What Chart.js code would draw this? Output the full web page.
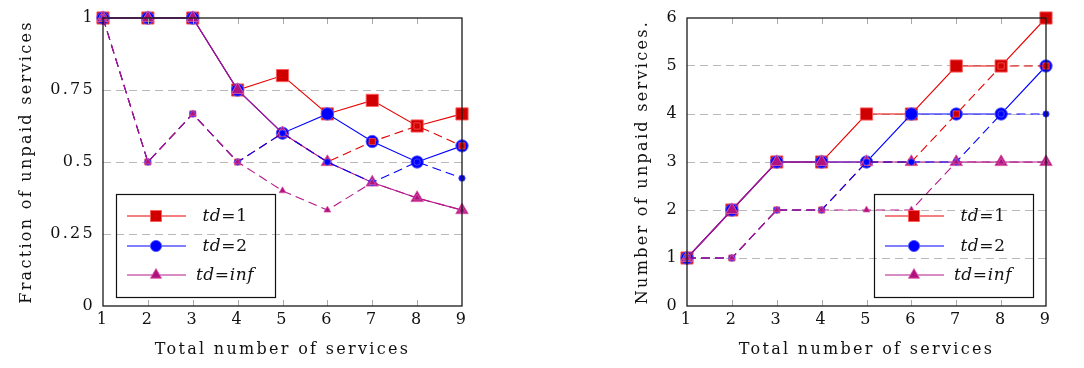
<!DOCTYPE html>
<html><head><meta charset="utf-8">
<script src="https://cdn.jsdelivr.net/npm/chart.js@4/dist/chart.umd.min.js"></script>
<style>
html,body{margin:0;padding:0;background:#fff;width:1084px;height:368px;overflow:hidden}
.wrap{position:absolute;top:0;width:542px;height:368px}
</style></head><body>
<div class="wrap" style="left:0"><canvas id="c1"></canvas></div>
<div class="wrap" style="left:542px"><canvas id="c2"></canvas></div>
<script>
// ---------- data ----------
const services = [1,2,3,4,5,6,7,8,9];
const seriesLabels = ['td=1','td=2','td=inf'];

// Left: fraction of unpaid services
const fracTicks = [0,0.25,0.5,0.75,1];
const fracTickLabels = ['0','0.25','0.5','0.75','1'];
const fracTd1 = [1,1,1,0.75,0.8,0.667,0.714,0.625,0.667];
const fracTd2 = [1,1,1,0.75,0.6,0.667,0.571,0.5,0.556];
const fracInf = [1,1,1,0.75,0.6,0.5,0.429,0.375,0.333];
const fracTd1Dash = [1,0.5,0.667,0.5,0.6,0.5,0.571,0.625,0.556];
const fracTd2Dash = [1,0.5,0.667,0.5,0.6,0.5,0.429,0.5,0.444];
const fracInfDash = [1,0.5,0.667,0.5,0.4,0.333,0.429,0.375,0.333];

// Right: number of unpaid services
const numTicks = [0,1,2,3,4,5,6];
const numTickLabels = ['0','1','2','3','4','5','6'];
const numTd1 = [1,2,3,3,4,4,5,5,6];
const numTd2 = [1,2,3,3,3,4,4,4,5];
const numInf = [1,2,3,3,3,3,3,3,3];
const numTd1Dash = [1,1,2,2,3,3,4,5,5];
const numTd2Dash = [1,1,2,2,3,3,3,4,4];
const numInfDash = [1,1,2,2,2,2,3,3,3];

// ---------- styles ----------
const FONT = "'DejaVu Serif', serif";
const STY = [
  {line:'#e80000', fill:'#d00000', edge:'rgba(255,90,90,0.9)', shape:'rect', big:8.6, small:4.4, leg:7.8},
  {line:'#0000ff', fill:'#0000ff', edge:'rgba(90,90,255,0.9)', shape:'circle', big:6.2, small:3.2, leg:5.6},
  {line:'#b3188a', fill:'#b0137f', edge:'rgba(220,90,170,0.9)', shape:'triangle', big:7.2, small:4.0, leg:6.4}
];

function pts(ys){ return services.map((x,i)=>({x:x, y:ys[i]})); }
function makeSets(solid, dashed){
  const sets = [];
  solid.forEach((ys,k)=>{
    const s = STY[k];
    sets.push({label:seriesLabels[k], data:pts(ys), borderColor:s.line, borderWidth:1.1,
      pointStyle:s.shape, pointRadius:s.big, pointBackgroundColor:s.fill, pointBorderColor:s.edge,
      pointBorderWidth:1, clip:false, order:6-k, tension:0, legendStyle:k});
  });
  dashed.forEach((ys,k)=>{
    const s = STY[k];
    sets.push({label:seriesLabels[k]+' (dashed)', data:pts(ys), borderColor:s.line, borderWidth:1.1,
      borderDash:[9,5], pointStyle:s.shape, pointRadius:s.small, pointBackgroundColor:s.fill,
      pointBorderColor:s.edge, pointBorderWidth:0.8, clip:false, order:3-k, tension:0});
  });
  return sets;
}

// ---------- plugins ----------
const SP = '2.3px';
const spacingPlugin = {
  id:'spacing',
  beforeLayout(chart){ chart.ctx.letterSpacing = SP; },
  beforeDraw(chart){ chart.ctx.letterSpacing = SP; }
};
const framePlugin = {
  id:'frame',
  afterDraw(chart){
    const ctx = chart.ctx, a = chart.chartArea, xs = chart.scales.x;
    ctx.save();
    ctx.strokeStyle = '#a8a8a8'; ctx.lineWidth = 1;
    xs.ticks.forEach(t=>{
      if (t.value === xs.min || t.value === xs.max) return;
      const px = Math.round(xs.getPixelForValue(t.value)) + 0.5;
      ctx.beginPath(); ctx.moveTo(px, a.bottom); ctx.lineTo(px, a.bottom-6); ctx.stroke();
      ctx.beginPath(); ctx.moveTo(px, a.top); ctx.lineTo(px, a.top+6); ctx.stroke();
    });
    ctx.strokeStyle = '#1a1a1a'; ctx.lineWidth = 1.3;
    ctx.strokeRect(a.left, a.top, a.right-a.left, a.bottom-a.top);
    ctx.restore();
  }
};
const boxLegend = {
  id:'boxLegend',
  afterDraw(chart, args, o){
    const ctx = chart.ctx, a = chart.chartArea;
    const x0 = a.left + o.dx, y0 = a.top + o.dy;
    ctx.save();
    ctx.letterSpacing = '0.6px';
    const solid = chart.data.datasets.filter(d=>d.legendStyle !== undefined);
    solid.forEach((d,i)=>{
      const s = STY[d.legendStyle];
      const y = y0 + o.rows[i];
      ctx.strokeStyle = s.line; ctx.lineWidth = 1.1; ctx.setLineDash([]);
      ctx.beginPath(); ctx.moveTo(x0+o.l1, y); ctx.lineTo(x0+o.l2, y); ctx.stroke();
      ctx.fillStyle = s.fill; ctx.strokeStyle = s.edge; ctx.lineWidth = 1;
      Chart.helpers.drawPoint(ctx, {pointStyle:s.shape, radius:s.leg, borderWidth:1, rotation:0}, x0+o.mk, y);
      const parts = d.label.split('=');
      const segs = [[parts[0],'italic'],['=','normal'],[parts[1], /^[0-9]+$/.test(parts[1])?'normal':'italic']];
      const widths = segs.map(([t,st])=>{ ctx.font = st+' 17px '+FONT; return ctx.measureText(t).width; });
      const gap = 0;
      const total = widths.reduce((p,c)=>p+c,0) + gap*2;
      let tx = x0 + o.tc - total/2;
      ctx.fillStyle = '#111'; ctx.textBaseline = 'middle'; ctx.textAlign = 'left';
      segs.forEach(([t,st],j)=>{ ctx.font = st+' 17px '+FONT; ctx.fillText(t, tx, y+1); tx += widths[j] + gap; });
    });
    ctx.strokeStyle = '#111'; ctx.lineWidth = 1.2; ctx.setLineDash([]);
    ctx.strokeRect(x0+0.5, y0+0.5, o.w, o.h);
    ctx.restore();
  }
};

function makeChart(id, cfg){
  return new Chart(document.getElementById(id), {
    type:'line',
    data:{datasets: makeSets(cfg.solid, cfg.dashed)},
    plugins:[spacingPlugin, framePlugin, boxLegend],
    options:{
      responsive:true, maintainAspectRatio:false, animation:false,
      layout:{padding:{left:cfg.padL, right:cfg.padR, top:18, bottom:0}},
      plugins:{legend:{display:false}, tooltip:{enabled:false},
        boxLegend:{dx:cfg.legDx, dy:176, w:159, h:103, rows:[22,52,81], l1:11, l2:70, mk:40, tc:109}},
      scales:{
        x:{type:'linear', min:1, max:9,
          ticks:{stepSize:1, color:'#111', font:{family:FONT, size:16}, padding:4},
          grid:{display:false, drawTicks:false}, border:{display:false},
          title:{display:true, text:'Total number of services', color:'#111', font:{family:FONT, size:16}, padding:{top:0, bottom:9}},
          afterFit(s){ s.height = 62; }
        },
        y:{type:'linear', min:cfg.min, max:cfg.max,
          afterBuildTicks(s){ s.ticks = cfg.ticks.map(v=>({value:v})); },
          ticks:{color:'#111', font:{family:FONT, size:16}, padding:8,
            callback:(v)=>{ const i = cfg.ticks.indexOf(v); return i>=0 ? cfg.tickLabels[i] : ''; }},
          grid:{drawTicks:false, lineWidth:1,
            color:(c)=> (c.tick && (c.tick.value===cfg.min || c.tick.value===cfg.max)) ? 'rgba(0,0,0,0)' : '#b8b8b8'},
          border:{display:false, dash:[8,5]},
          title:{display:true, text:cfg.ytitle, color:'#111', font:{family:FONT, size:16}, padding:{top:17, bottom:0}},
          afterFit(s){ s.width = cfg.yW; }
        }
      }
    }
  });
}

makeChart('c1', {solid:[fracTd1,fracTd2,fracInf], dashed:[fracTd1Dash,fracTd2Dash,fracInfDash],
  ticks:fracTicks, tickLabels:fracTickLabels, min:0, max:1, ytitle:'Fraction of unpaid services', padL:0, padR:80, yW:103, legDx:13});
makeChart('c2', {solid:[numTd1,numTd2,numInf], dashed:[numTd1Dash,numTd2Dash,numInfDash],
  ticks:numTicks, tickLabels:numTickLabels, min:0, max:6, ytitle:'Number of unpaid services.', padL:74, padR:38, yW:71, legDx:187});
</script>
</body></html>
